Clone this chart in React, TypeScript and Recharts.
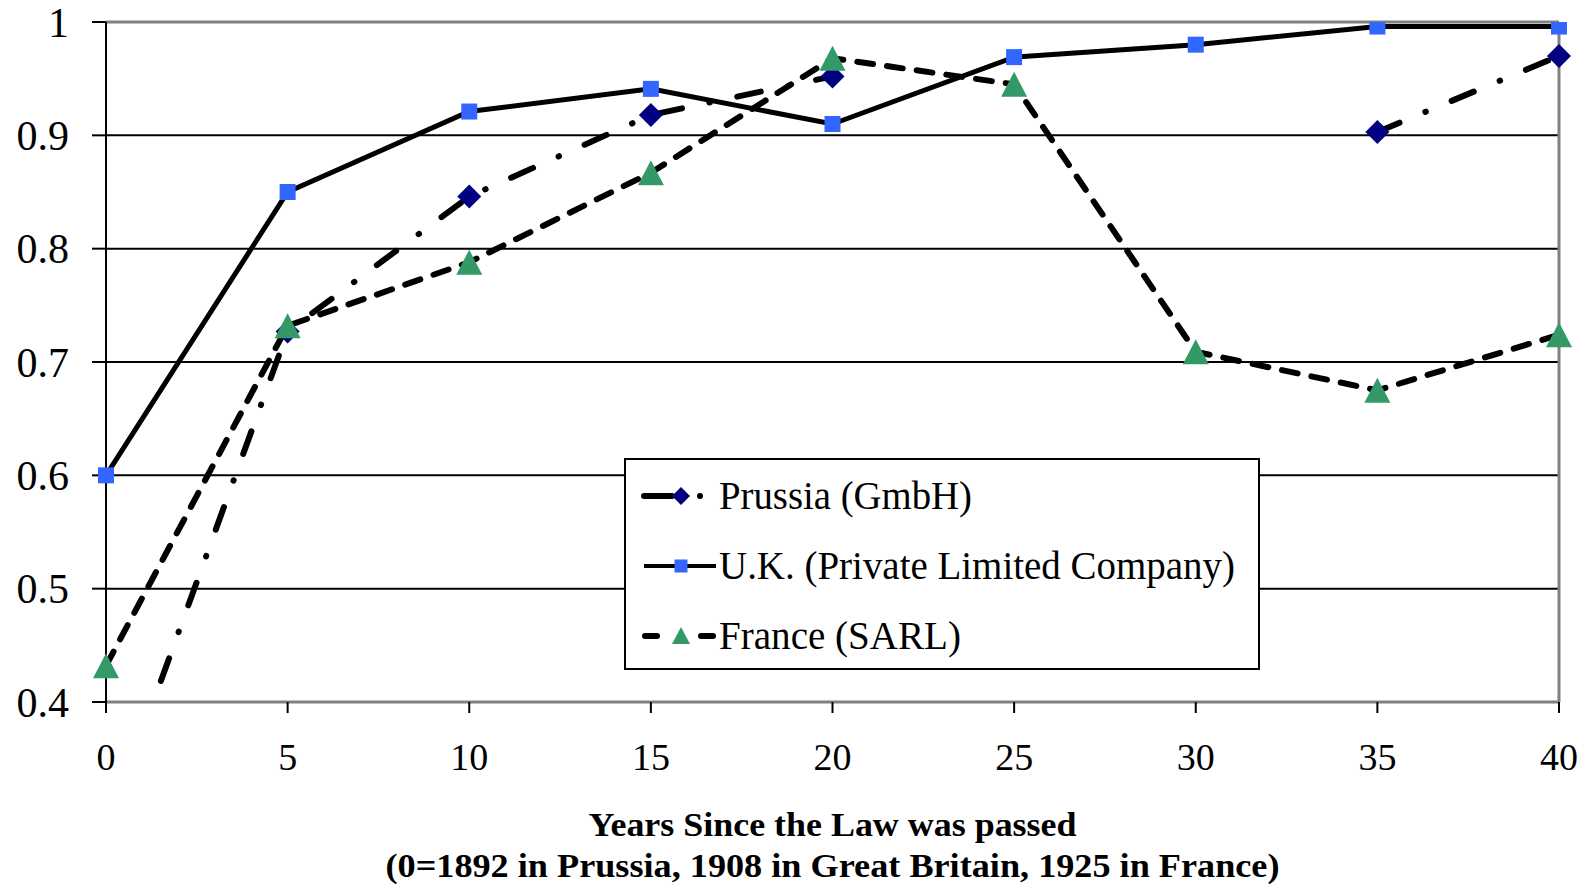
import React from 'react';
import { LineChart, Line, XAxis, YAxis, CartesianGrid, ReferenceLine, Legend } from 'recharts';

const years = [0, 5, 10, 15, 20, 25, 30, 35, 40];
const prussia: (number | null)[] = [0.285, 0.727, 0.846, 0.918, 0.952, null, null, 0.903, 0.970];
const uk = [0.600, 0.850, 0.921, 0.941, 0.910, 0.969, 0.980, 0.996, 0.996];
const france = [0.432, 0.732, 0.788, 0.867, 0.968, 0.945, 0.709, 0.675, 0.724];

const xTicks = [0, 5, 10, 15, 20, 25, 30, 35, 40];
const yTicks = [0.4, 0.5, 0.6, 0.7, 0.8, 0.9, 1];

const seriesNames = ['Prussia (GmbH)', 'U.K. (Private Limited Company)', 'France (SARL)'];
const xTitle1 = 'Years Since the Law was passed';
const xTitle2 = '(0=1892 in Prussia, 1908 in Great Britain, 1925 in France)';

const data = years.map((y, i) => ({ year: y, prussia: prussia[i], uk: uk[i], france: france[i] }));

const FONT = '"Liberation Serif", "Times New Roman", serif';
const NAVY = '#000080';
const BLUE = '#3366FF';
const GREEN = '#339966';

const inRange = (v: any) => v != null && v >= 0.4 && v <= 1.0001;

const Diamond = (props: any) => {
  const { cx, cy, payload, key } = props;
  if (cx == null || cy == null || !inRange(payload?.prussia)) return <g key={key} />;
  const r = 12;
  return <path key={key} d={`M${cx},${cy - r}L${cx + r},${cy}L${cx},${cy + r}L${cx - r},${cy}Z`} fill={NAVY} />;
};
const Square = (props: any) => {
  const { cx, cy, payload, key } = props;
  if (cx == null || cy == null || !inRange(payload?.uk)) return <g key={key} />;
  const s = 16;
  return <rect key={key} x={cx - s / 2} y={cy - s / 2} width={s} height={s} fill={BLUE} />;
};
const Triangle = (props: any) => {
  const { cx, cy, payload, key } = props;
  if (cx == null || cy == null || !inRange(payload?.france)) return <g key={key} />;
  const w = 26, h = 25;
  return <path key={key} d={`M${cx},${cy - h / 2}L${cx + w / 2},${cy + h / 2}L${cx - w / 2},${cy + h / 2}Z`} fill={GREEN} />;
};

const XTick = (props: any) => {
  const { x, payload } = props;
  return (
    <text x={x} y={770} textAnchor="middle" fontFamily={FONT} fontSize={38} fill="#000">
      {payload.value}
    </text>
  );
};

const YTick = (props: any) => {
  const { x, y, payload } = props;
  const v = payload.value;
  const label = v === 1 ? '1' : Number(v).toFixed(1);
  return (
    <text x={x} y={y} dy="0.35em" textAnchor="end" fontFamily={FONT} fontSize={42} fill="#000">
      {label}
    </text>
  );
};

const XTitle = (props: any) => {
  const vb = props.viewBox || {};
  const cx = vb.x + vb.width / 2;
  const y0 = vb.y;
  return (
    <g>
      <text x={cx} y={y0 + 134} textAnchor="middle" fontFamily={FONT} fontWeight="bold" fontSize={33} fill="#000"
        textLength={488} lengthAdjust="spacingAndGlyphs">{xTitle1}</text>
      <text x={cx} y={y0 + 175} textAnchor="middle" fontFamily={FONT} fontWeight="bold" fontSize={33} fill="#000"
        textLength={894} lengthAdjust="spacingAndGlyphs">{xTitle2}</text>
    </g>
  );
};

const legendWidths = [253, 516, 242];

const LegendBox = () => {
  const rows = [38, 108, 178];
  const tx = 95;
  return (
    <svg width={636} height={212} style={{ display: 'block' }}>
      <rect x={1} y={1} width={634} height={210} fill="#fff" stroke="#000" strokeWidth={2} />
      {/* Prussia */}
      <line x1={20} y1={rows[0]} x2={48} y2={rows[0]} stroke="#000" strokeWidth={6} strokeLinecap="round" />
      <path d={`M57,${rows[0] - 9}L66,${rows[0]}L57,${rows[0] + 9}L48,${rows[0]}Z`} fill={NAVY} />
      <circle cx={76} cy={rows[0]} r={3} fill="#000" />
      <text x={tx} y={rows[0] + 13} fontFamily={FONT} fontSize={40} fill="#000"
        textLength={legendWidths[0]} lengthAdjust="spacingAndGlyphs">{seriesNames[0]}</text>
      {/* UK */}
      <line x1={20} y1={rows[1]} x2={92} y2={rows[1]} stroke="#000" strokeWidth={4} />
      <rect x={50.5} y={rows[1] - 6.5} width={13} height={13} fill={BLUE} />
      <text x={tx} y={rows[1] + 13} fontFamily={FONT} fontSize={40} fill="#000"
        textLength={legendWidths[1]} lengthAdjust="spacingAndGlyphs">{seriesNames[1]}</text>
      {/* France */}
      <line x1={21} y1={rows[2]} x2={33} y2={rows[2]} stroke="#000" strokeWidth={6} strokeLinecap="round" />
      <line x1={77} y1={rows[2]} x2={89} y2={rows[2]} stroke="#000" strokeWidth={6} strokeLinecap="round" />
      <path d={`M57,${rows[2] - 9}L66,${rows[2] + 8}L48,${rows[2] + 8}Z`} fill={GREEN} />
      <text x={tx} y={rows[2] + 13} fontFamily={FONT} fontSize={40} fill="#000"
        textLength={legendWidths[2]} lengthAdjust="spacingAndGlyphs">{seriesNames[2]}</text>
    </svg>
  );
};

export default function App() {
  return (
    <div style={{ position: 'absolute', left: 0, top: 0, width: 1589, height: 888, background: '#fff' }}>
      <LineChart width={1589} height={888} data={data} margin={{ top: 22, right: 30, left: 6, bottom: 106 }}>
        <CartesianGrid vertical={false} stroke="#000" strokeWidth={2} />
        <XAxis
          dataKey="year"
          type="number"
          domain={[0, 40]}
          ticks={xTicks}
          interval={0}
          height={80}
          tickSize={11}
          axisLine={{ stroke: '#808080', strokeWidth: 3 }}
          tickLine={{ stroke: '#000', strokeWidth: 2 }}
          tick={<XTick />}
          label={{ content: <XTitle /> }}
        />
        <YAxis
          type="number"
          domain={[0.4, 1]}
          allowDataOverflow
          ticks={yTicks}
          interval={0}
          width={100}
          tickSize={14}
          tickMargin={23}
          axisLine={{ stroke: '#000', strokeWidth: 2 }}
          tickLine={{ stroke: '#000', strokeWidth: 2 }}
          tick={<YTick />}
        />
        <ReferenceLine y={1} stroke="#808080" strokeWidth={3} />
        <ReferenceLine x={40} stroke="#808080" strokeWidth={3} />
        <Line
          dataKey="prussia"
          name={seriesNames[0]}
          stroke="#000"
          strokeWidth={6}
          strokeDasharray="24 28 0.5 28"
          strokeLinecap="round"
          dot={<Diamond />}
          activeDot={false}
          connectNulls={false}
          isAnimationActive={false}
        />
        <Line
          dataKey="uk"
          name={seriesNames[1]}
          stroke="#000"
          strokeWidth={5}
          dot={<Square />}
          activeDot={false}
          isAnimationActive={false}
        />
        <Line
          dataKey="france"
          name={seriesNames[2]}
          stroke="#000"
          strokeWidth={6}
          strokeDasharray="16 14"
          strokeLinecap="round"
          dot={<Triangle />}
          activeDot={false}
          isAnimationActive={false}
        />
        <Legend
          layout="vertical"
          align="center"
          verticalAlign="middle"
          content={<LegendBox />}
          wrapperStyle={{ left: 624, top: 458, width: 636, height: 212, right: 'auto', bottom: 'auto', margin: 0 }}
        />
      </LineChart>
    </div>
  );
}
